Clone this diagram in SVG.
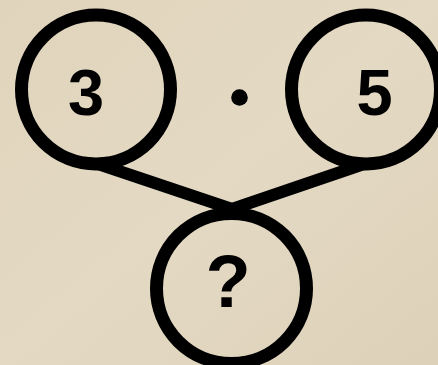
<svg xmlns="http://www.w3.org/2000/svg" width="438" height="365" viewBox="0 0 438 365">
  <style>
    .ring { fill: none; stroke: #000; stroke-width: 13; }
    .conn { stroke: #000; stroke-width: 12; fill: none; }
    .num { font-family: "Liberation Sans", Arial, sans-serif; font-weight: bold; fill: #000; text-anchor: middle; }
  </style>
  <defs>
    <linearGradient id="bg" x1="0" y1="0" x2="1" y2="1">
      <stop offset="0" stop-color="#e0d4bc"/>
      <stop offset="0.5" stop-color="#e4d9c3"/>
      <stop offset="1" stop-color="#ddd1b9"/>
    </linearGradient>
  </defs>
  <rect x="0" y="0" width="438" height="365" fill="url(#bg)"/>
  <g id="connectors">
    <line class="conn" x1="98" y1="164" x2="232" y2="209"/>
    <line class="conn" x1="364" y1="164" x2="232" y2="209"/>
  </g>
  <g id="node-3">
    <circle class="ring" cx="96" cy="89.5" r="74.5" fill="none"/>
    <text class="num" x="86" y="115" font-size="65">3</text>
  </g>
  <g id="node-5">
    <circle class="ring" cx="366" cy="89.5" r="74.5"/>
    <text class="num" x="374.5" y="115" font-size="65">5</text>
  </g>
  <g id="node-dot">
    <circle cx="239.5" cy="97.5" r="8.3" fill="#000"/>
  </g>
  <g id="node-q">
    <circle class="ring" cx="231.5" cy="288.5" r="75"/>
    <text class="num" x="228" y="307" font-size="74">?</text>
  </g>
</svg>
